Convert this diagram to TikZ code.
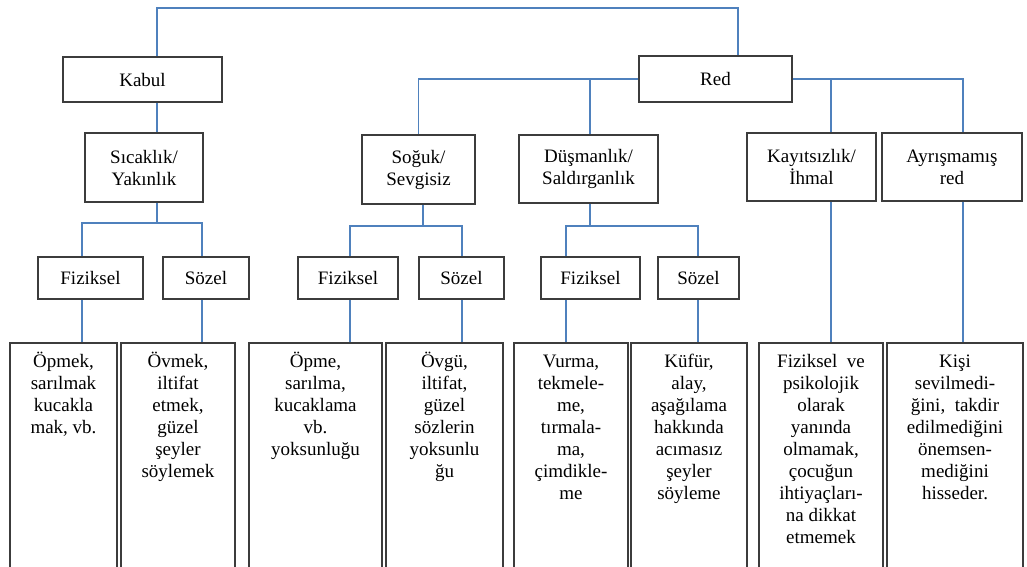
\documentclass[tikz,border=0pt]{standalone}
\usepackage{fontspec}
\setmainfont{Liberation Serif}
\usetikzlibrary{calc}
\definecolor{connblue}{RGB}{79,129,189}
\definecolor{boxgray}{RGB}{60,60,60}
\tikzset{
  box/.style={draw=boxgray, line width=1.8pt, fill=white, inner sep=0pt, align=center,
    font=\fontsize{19}{22}\selectfont},
  sz/.style 2 args={minimum width=#1pt, minimum height=#2pt},
  conn/.style={draw=connblue, line width=1.6pt},
  leaftext/.style={anchor=north, inner sep=0pt, align=center,
    font=\fontsize{19}{22}\selectfont},
}
\newcommand{\firstl}{\rule{0pt}{17pt}}
\begin{document}
\begin{tikzpicture}[x=1pt, y=-1pt]
\useasboundingbox (0,0) rectangle (1027,566);
\clip (0,0) rectangle (1027,566);
\fill[white] (0,0) rectangle (1027,566);

% level 1
\node[box, sz={159}{45}] (kabul) at (142.5,79.5) {Kabul};
\node[box, sz={153}{46}] (red) at (715.5,79) {Red};

% level 2
\node[box, sz={118}{69}] (sicak) at (144,167.5) {Sıcaklık/\\Yakınlık};
\node[box, sz={113}{69}] (soguk) at (418.5,169.5) {Soğuk/\\Sevgisiz};
\node[box, sz={139}{68}] (dusman) at (588.5,169) {Düşmanlık/\\Saldırganlık};
\node[box, sz={129}{68}] (kayit) at (811.5,167) {Kayıtsızlık/\\İhmal};
\node[box, sz={140}{68}] (ayris) at (952,167) {Ayrışmamış\\red};

% level 3
\node[box, sz={105}{42}] (fiz1) at (90.5,278) {Fiziksel};
\node[box, sz={86}{42}] (soz1) at (206,278) {Sözel};
\node[box, sz={100}{42}] (fiz2) at (348,278) {Fiziksel};
\node[box, sz={85}{42}] (soz2) at (461.5,278) {Sözel};
\node[box, sz={99}{42}] (fiz3) at (590.5,278) {Fiziksel};
\node[box, sz={81}{42}] (soz3) at (698.5,278) {Sözel};

% level 4 (open at the bottom edge)
\node[box, sz={107}{270}, anchor=north] (b1) at (63.5,342) {};
\node[box, sz={114}{270}, anchor=north] (b2) at (178,342) {};
\node[box, sz={133}{270}, anchor=north] (b3) at (315.5,342) {};
\node[box, sz={117}{270}, anchor=north] (b4) at (444.5,342) {};
\node[box, sz={114}{270}, anchor=north] (b5) at (571,342) {};
\node[box, sz={116}{270}, anchor=north] (b6) at (689,342) {};
\node[box, sz={124}{270}, anchor=north] (b7) at (821,342) {};
\node[box, sz={136}{270}, anchor=north] (b8) at (955,342) {};

\node[leaftext] (t1) at ([yshift=-8pt]b1.north) {\firstl Öpmek,\\sarılmak\\kucakla\\mak, vb.};
\node[leaftext] (t2) at ([yshift=-8pt]b2.north) {\firstl Övmek,\\iltifat\\etmek,\\güzel\\şeyler\\söylemek};
\node[leaftext] (t3) at ([yshift=-8pt]b3.north) {\firstl Öpme,\\sarılma,\\kucaklama\\vb.\\yoksunluğu};
\node[leaftext] (t4) at ([yshift=-8pt]b4.north) {\firstl Övgü,\\iltifat,\\güzel\\sözlerin\\yoksunlu\\ğu};
\node[leaftext] (t5) at ([yshift=-8pt]b5.north) {\firstl Vurma,\\tekmele-\\me,\\tırmala-\\ma,\\çimdikle-\\me};
\node[leaftext] (t6) at ([yshift=-8pt]b6.north) {\firstl Küfür,\\alay,\\aşağılama\\hakkında\\acımasız\\şeyler\\söyleme};
\node[leaftext] (t7) at ([yshift=-8pt]b7.north) {\firstl Fiziksel\ \ ve\\psikolojik\\olarak\\yanında\\olmamak,\\çocuğun\\ihtiyaçları-\\na dikkat\\etmemek};
\node[leaftext] (t8) at ([yshift=-8pt]b8.north) {\firstl Kişi\\sevilmedi-\\ğini,\ \ takdir\\edilmediğini\\önemsen-\\mediğini\\hisseder.};

% connectors
\coordinate (topbar) at (0,8);
\coordinate (bar1) at (0,223);
\coordinate (bar2) at (0,226);
\coordinate (bar3) at (0,226);

\draw[conn] ([xshift=14.5pt]kabul.north) -- ([xshift=14.5pt]kabul.north |- topbar)
  -- ([xshift=22.5pt]red.north |- topbar) -- ([xshift=22.5pt]red.north);
\draw[conn] ([xshift=14.5pt]kabul.south) -- ([xshift=14.5pt]kabul.south |- sicak.north);

\draw[conn] (red.west) -| (soguk.north);
\draw[conn] ([xshift=1.5pt]dusman.north) -- ([xshift=1.5pt]dusman.north |- red.west);
\draw[conn] (red.east) -| ([xshift=11pt]ayris.north);
\draw[conn] ([xshift=19.5pt]kayit.north) -- ([xshift=19.5pt]kayit.north |- red.east);
\draw[conn] ([xshift=19.5pt]kayit.south) -- ([xshift=19.5pt]kayit.south |- b7.north);
\draw[conn] ([xshift=11pt]ayris.south) -- ([xshift=11pt]ayris.south |- b8.north);

% Sıcaklık group
\draw[conn] ([xshift=13pt]sicak.south) -- ([xshift=13pt]sicak.south |- bar1);
\draw[conn] ([xshift=-8.5pt]fiz1.north) -- ([xshift=-8.5pt]fiz1.north |- bar1)
  -- ([xshift=-4pt]soz1.north |- bar1) -- ([xshift=-4pt]soz1.north);
\draw[conn] ([xshift=-8.5pt]fiz1.south) -- ([xshift=-8.5pt]fiz1.south |- b1.north);
\draw[conn] ([xshift=-4pt]soz1.south) -- ([xshift=-4pt]soz1.south |- b2.north);

% Soğuk group
\draw[conn] ([xshift=4.5pt]soguk.south) -- ([xshift=4.5pt]soguk.south |- bar2);
\draw[conn] ([xshift=2pt]fiz2.north) -- ([xshift=2pt]fiz2.north |- bar2)
  -- ([xshift=0.5pt]soz2.north |- bar2) -- ([xshift=0.5pt]soz2.north);
\draw[conn] ([xshift=2pt]fiz2.south) -- ([xshift=2pt]fiz2.south |- b3.north);
\draw[conn] ([xshift=0.5pt]soz2.south) -- ([xshift=0.5pt]soz2.south |- b4.north);

% Düşmanlık group
\draw[conn] ([xshift=1.5pt]dusman.south) -- ([xshift=1.5pt]dusman.south |- bar3);
\draw[conn] ([xshift=-24.5pt]fiz3.north) -- ([xshift=-24.5pt]fiz3.north |- bar3)
  -- ([xshift=-0.5pt]soz3.north |- bar3) -- ([xshift=-0.5pt]soz3.north);
\draw[conn] ([xshift=-24.5pt]fiz3.south) -- ([xshift=-24.5pt]fiz3.south |- b5.north);
\draw[conn] ([xshift=-0.5pt]soz3.south) -- ([xshift=-0.5pt]soz3.south |- b6.north);
\end{tikzpicture}
\end{document}
